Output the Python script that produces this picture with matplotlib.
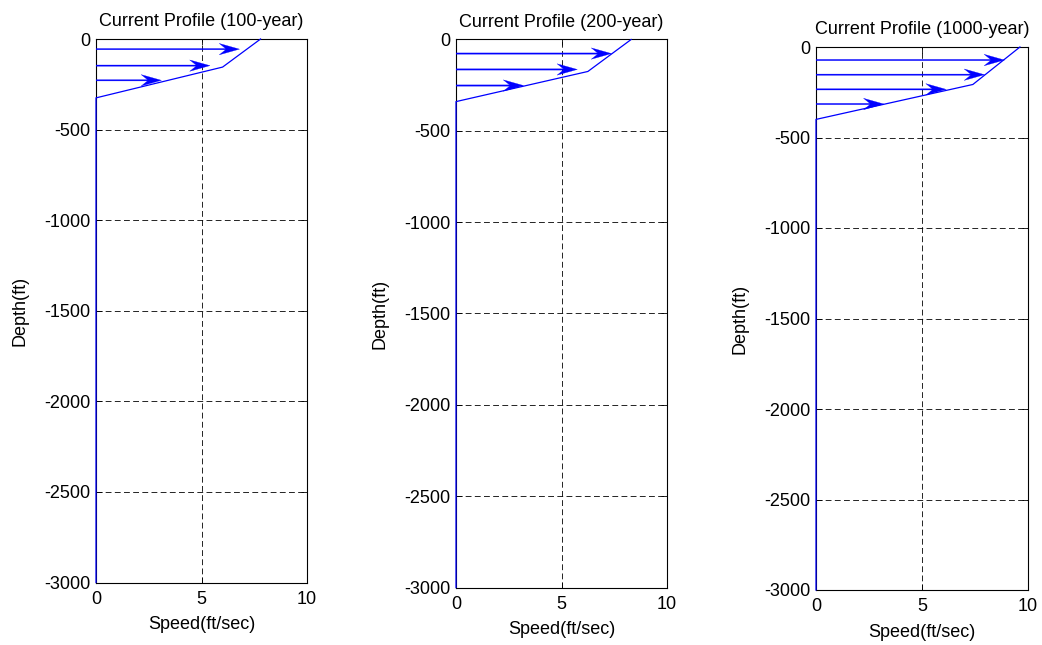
import numpy as np
import matplotlib
matplotlib.use("Agg")
import matplotlib.pyplot as plt

plt.rcParams['font.family'] = ['Liberation Sans', 'DejaVu Sans']
plt.rcParams['font.size'] = 13
plt.rcParams['axes.unicode_minus'] = False

# return periods
titles = ['Current Profile (100-year)', 'Current Profile (200-year)', 'Current Profile (1000-year)']

# profile breakpoints (depth in ft, speed in ft/sec)
depth_100 = [0, -155, -325, -3000]
speed_100 = [7.8, 6.0, 0.0, 0.0]
depth_200 = [0, -175, -340, -3000]
speed_200 = [8.3, 6.25, 0.0, 0.0]
depth_1000 = [0, -207, -400, -3000]
speed_1000 = [9.62, 7.4, 0.0, 0.0]

# quiver arrows (depth, speed)
arrow_depth_100 = [-56, -147, -228]
arrow_speed_100 = [6.8, 5.4, 3.1]
arrow_depth_200 = [-77, -164, -252]
arrow_speed_200 = [7.37, 5.75, 3.2]
arrow_depth_1000 = [-72, -153, -234, -315]
arrow_speed_1000 = [8.89, 7.95, 6.14, 3.2]

profiles = [
    (depth_100, speed_100, arrow_depth_100, arrow_speed_100),
    (depth_200, speed_200, arrow_depth_200, arrow_speed_200),
    (depth_1000, speed_1000, arrow_depth_1000, arrow_speed_1000),
]

W, H = 1042, 645
fig = plt.figure(figsize=(W / 100, H / 100), dpi=100)

# axes boxes in pixels: left, right, top, bottom
boxes = [(96, 307, 39, 582.5), (456, 667, 39.5, 587.5), (816, 1028, 47, 590)]

for (l, r, t, b), title, (dep, spd, adep, aspd) in zip(boxes, titles, profiles):
    ax = fig.add_axes([l / W, 1 - b / H, (r - l) / W, (b - t) / H])
    ax.set_xlim(0, 10)
    ax.set_ylim(-3000, 0)
    ax.set_xticks([0, 5, 10])
    ax.set_yticks(np.arange(-3000, 1, 500))
    ax.grid(True, color='black', linestyle=(0, (7, 4)), linewidth=0.6)
    ax.tick_params(direction='in', length=4, width=0.6, top=True, right=True)
    ax.tick_params(axis='x', pad=6)
    ax.tick_params(axis='y', pad=4)
    for s in ax.spines.values():
        s.set_linewidth(0.8)

    ax.plot(spd, dep, color='blue', linewidth=0.9, clip_on=False, zorder=3)
    ax.quiver(np.zeros(len(adep)), adep, aspd, np.zeros(len(adep)),
              angles='xy', scale_units='xy', scale=1, color='blue',
              edgecolor='blue', linewidth=0.2,
              width=0.006, headwidth=9, headlength=16, headaxislength=11,
              zorder=4)

    ax.set_title(title, fontsize=13, pad=9)
    ax.set_xlabel('Speed(ft/sec)', labelpad=6)
    ax.set_ylabel('Depth(ft)', labelpad=11)

fig.savefig('out.png', dpi=100)
